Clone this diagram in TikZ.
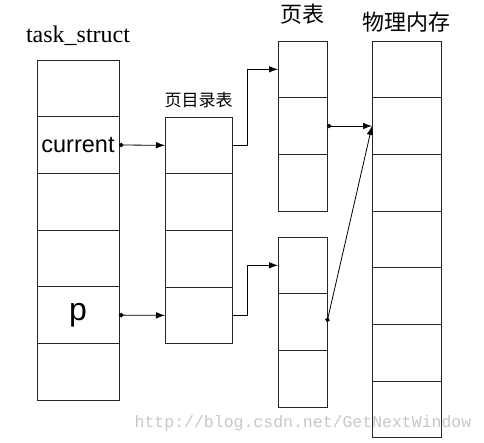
\documentclass[tikz,border=0pt]{standalone}
\usepackage{fontspec}
\setmainfont{Liberation Serif}
\setsansfont{Liberation Sans}
\setmonofont{Liberation Mono}
\newfontfamily\cjk{Noto Sans CJK SC}
\usetikzlibrary{arrows.meta, positioning}
\tikzstyle{cell} = [rectangle, draw=black!85, line width=0.8pt, minimum height=56.7pt, inner sep=0pt, outer sep=0pt]
\tikzstyle{arrow} = [line width=0.8pt,-{Latex[length=9pt,width=6.5pt]}]
\tikzstyle{ptr} = [line width=0.8pt,{Circle[length=4.5pt]}-{Latex[length=9pt,width=6.5pt]}]
\tikzstyle{title} = [font=\fontsize{24}{24}\selectfont]
\tikzstyle{cntitle} = [font=\cjk\fontsize{22}{22}\selectfont]

\begin{document}
\begin{tikzpicture}[x=1pt, y=-1pt, node distance=56.7pt]
\useasboundingbox (0,0) rectangle (484,442);

% task_struct
\node (ts1) [cell, minimum width=82pt] at (78,88.3) {};
\node (ts2) [cell, minimum width=82pt, below of=ts1, font=\sffamily\fontsize{23.5}{23.5}\selectfont] {current};
\node (ts3) [cell, minimum width=82pt, below of=ts2] {};
\node (ts4) [cell, minimum width=82pt, below of=ts3] {};
\node (ts5) [cell, minimum width=82pt, below of=ts4, font=\sffamily\fontsize{32}{32}\selectfont] {p};
\node (ts6) [cell, minimum width=82pt, below of=ts5] {};

% page directory
\node (dir1) [cell, minimum width=67pt] at (198.5,145.3) {};
\node (dir2) [cell, minimum width=67pt, below of=dir1] {};
\node (dir3) [cell, minimum width=67pt, below of=dir2] {};
\node (dir4) [cell, minimum width=67pt, below of=dir3] {};

% page tables
\node (pa1) [cell, minimum width=49pt] at (302.5,69.3) {};
\node (pa2) [cell, minimum width=49pt, below of=pa1] {};
\node (pa3) [cell, minimum width=49pt, below of=pa2] {};

\node (pb1) [cell, minimum width=49pt] at (302.5,265.3) {};
\node (pb2) [cell, minimum width=49pt, below of=pb1] {};
\node (pb3) [cell, minimum width=49pt, below of=pb2] {};

% physical memory
\node (mem1) [cell, minimum width=69pt] at (406.5,69.3) {};
\node (mem2) [cell, minimum width=69pt, below of=mem1] {};
\node (mem3) [cell, minimum width=69pt, below of=mem2] {};
\node (mem4) [cell, minimum width=69pt, below of=mem3] {};
\node (mem5) [cell, minimum width=69pt, below of=mem4] {};
\node (mem6) [cell, minimum width=69pt, below of=mem5] {};
\node (mem7) [cell, minimum width=69pt, below of=mem6] {};

% Arrows
\draw [ptr] (ts2.east) -- (dir1.west);
\draw [ptr] (ts5.east) -- (dir4.west);
\draw [arrow] (dir1.east) -- ++(15,0) |- (pa1.west);
\draw [arrow] (dir4.east) -- ++(15,0) |- (pb1.west);
\draw [ptr] (pa2.east) -- (mem2.west);
\draw [ptr] (pb2.east) -- (mem2.west);

% Labels
\node (tslabel) [title, above of=ts1, yshift=-4pt] {task\_struct};
\node (dirlabel) [cntitle, font=\cjk\fontsize{17}{17}\selectfont, above of=dir1, yshift=-11pt] {页目录表};
\node (ptlabel) [cntitle, above of=pa1, yshift=-2pt] {页表};
\node (memlabel) [cntitle, above of=mem1, yshift=-10pt] {物理内存};

% watermark
\node (mark) [text=black!22, font=\ttfamily\fontsize{16.5}{16.5}\selectfont] at (303,423) {http://blog.csdn.net/GetNextWindow};

\end{tikzpicture}
\end{document}
